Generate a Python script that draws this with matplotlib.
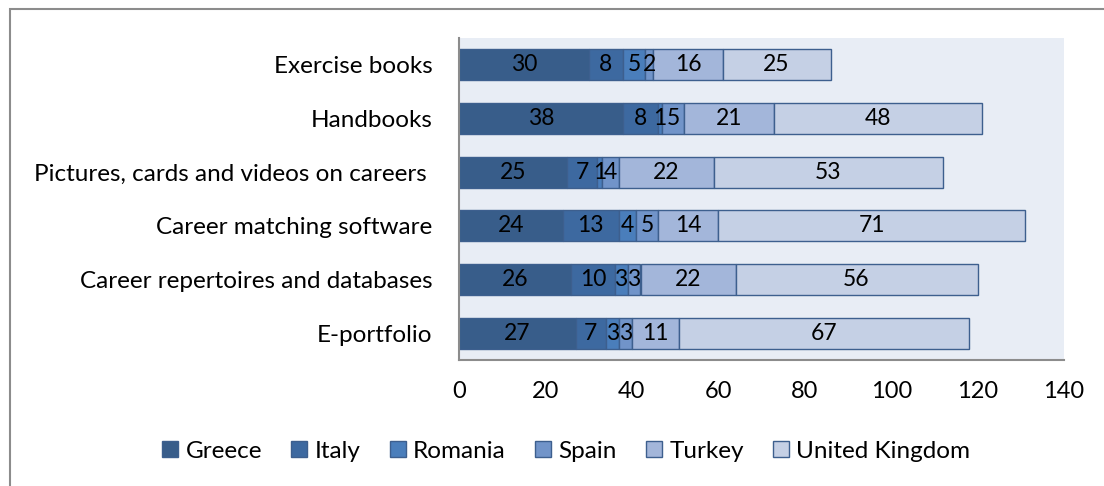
import numpy as np
import matplotlib
matplotlib.use('agg')
import matplotlib.pyplot as plt
from matplotlib.patches import Rectangle

## Data
categories = ["Exercise books", "Handbooks", "Pictures, cards and videos on careers ",
              "Career matching software", "Career repertoires and databases", "E-portfolio"]
countries = ["Greece", "Italy", "Romania", "Spain", "Turkey", "United Kingdom"]
greece = [30, 38, 25, 24, 26, 27]
italy = [8, 8, 7, 13, 10, 7]
romania = [5, 1, 1, 4, 3, 3]
spain = [2, 5, 4, 5, 3, 3]
turkey = [16, 21, 22, 14, 22, 11]
uk = [25, 48, 53, 71, 56, 67]
xticks = [0, 20, 40, 60, 80, 100, 120, 140]

series = [greece, italy, romania, spain, turkey, uk]
colors = ["#385D8A", "#3D69A0", "#4A7EBB", "#7194C9", "#A3B6DA", "#C5D0E5"]

plt.rcParams['font.family'] = ['Lato', 'DejaVu Sans']

fig = plt.figure(figsize=(11.04, 4.86), dpi=100)
# outer chart frame
fig.patches.append(Rectangle((10/1104, -0.05), 1.1, 1 - 9/486 + 0.05, transform=fig.transFigure,
                             fill=False, edgecolor="#8C8C8C", linewidth=1.5))

ax = fig.add_axes([459/1104, 1 - 360/486, 605/1104, 322/486])
ax.set_facecolor("#E8EDF5")

y = np.arange(len(categories))
left = np.zeros(len(categories))
for name, vals, c in zip(countries, series, colors):
    vals = np.array(vals)
    ax.barh(y, vals, left=left, height=0.58, color=c, edgecolor="#3D5F8E",
            linewidth=1, label=name)
    for yi, l, v in zip(y, left, vals):
        ax.text(l + v / 2, yi, str(v), ha="center", va="center", fontsize=16.5, color="black")
    left = left + vals

ax.set_xlim(0, 140)
ax.set_ylim(len(categories) - 0.5, -0.5)
ax.set_xticks(xticks)
ax.set_yticks(y)
ax.set_yticklabels(categories)
ax.tick_params(axis="y", length=0, labelsize=17.5, pad=19)
ax.tick_params(axis="x", length=0, labelsize=17, pad=15)
for s in ["top", "right"]:
    ax.spines[s].set_visible(False)
for s in ["left", "bottom"]:
    ax.spines[s].set_color("#8C8C8C")
    ax.spines[s].set_linewidth(1.5)

fig.legend(loc="center", bbox_to_anchor=(0.513, 0.072), ncol=6, frameon=False, fontsize=17.5,
           handlelength=0.66, handleheight=0.66, handletextpad=0.3, columnspacing=1.2)

plt.savefig("out.png", dpi=100)
